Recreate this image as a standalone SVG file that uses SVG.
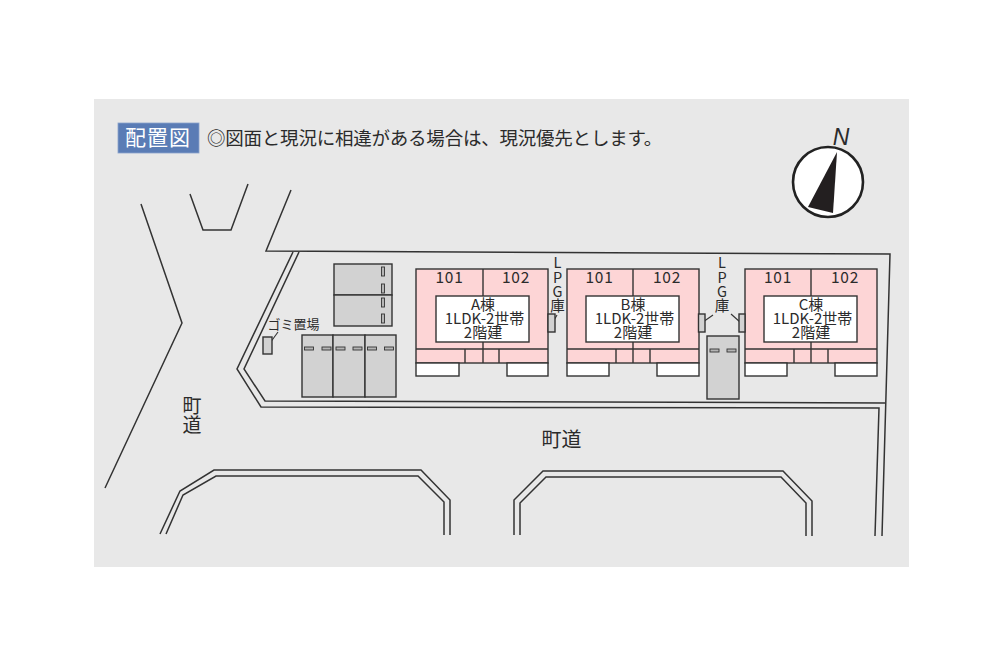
<svg xmlns="http://www.w3.org/2000/svg" width="1000" height="667" viewBox="0 0 1000 667">
<style>
text{font-family:"Noto Sans CJK JP","Noto Sans",sans-serif;fill:#2b2b2b;text-anchor:middle}
.road{fill:none;stroke:#333;stroke-width:1.5}
.b{stroke:#333;stroke-width:1.4}
.pink{fill:#fdd5d6}
.white{fill:#fff}
.gray{fill:#d2d2d2}
.slot{fill:#b5b5b5;stroke:#333;stroke-width:.9}
.lead{fill:none;stroke:#333;stroke-width:1.1}
.num{font-size:15.5px;letter-spacing:.8px}
.lbl{font-size:15px}
.lpg{font-size:14.5px}
</style>
<rect x="94" y="99" width="815" height="468" fill="#e8e8e8"/>
<g id="title">
<rect x="118" y="123" width="81" height="30" fill="#5a7cb5" stroke="#8ba3cc" stroke-width=".8"/>
<text x="158" y="145" font-size="21" style="fill:#fff" letter-spacing="1">配置図</text>
</g>
<text id="note" x="207" y="145" font-size="18.500" letter-spacing="-.22" style="text-anchor:start">◎図面と現況に相違がある場合は、現況優先とします。</text>
<g id="connectors">
<path class="road" d="M141 204L182 323L105 488"/>
<path class="road" d="M190 194L203 230H231L248 184"/>
<path class="road" d="M291 190L266 251L890 254L882 536"/>
<path class="road" d="M293 252L237 369L261 407L879 408L875 536"/>
<path class="road" d="M299 252L244 369L265 401L885 403"/>
<path class="road" d="M160 534L180 491L214 470H421L450 500V535"/>
<path class="road" d="M166 534L183 495L216 476H418L444 502V535"/>
<path class="road" d="M514 535V500L543 471H783L812 501V536"/>
<path class="road" d="M520 535V503L546 477H781L806 503V536"/>
<path class="lead" d="M278 332L270 343"/>
<path class="lead" d="M557 315L553 322"/>
<path class="lead" d="M713 315L703 322"/>
<path class="lead" d="M731 314L740 322"/>
</g>
<g id="compass">
<circle cx="828" cy="182" r="35" fill="#fff" stroke="#222" stroke-width="2.6"/>
<polygon points="837,152 808,207 833,213" fill="#231f20"/>
<text x="841" y="145" font-size="23" font-style="italic" style="font-family:'Liberation Sans',sans-serif">N</text>
</g>
<g id="parking-top">
<rect class="b gray" x="334" y="264" width="58" height="31"/>
<rect class="b gray" x="334" y="295" width="58" height="31"/>
<rect class="slot" x="381.500" y="267" width="3" height="9"/>
<rect class="slot" x="381.500" y="284" width="3" height="9"/>
<rect class="slot" x="381.500" y="298" width="3" height="9"/>
<rect class="slot" x="381.500" y="314" width="3" height="9"/>
</g>
<g id="parking-lower">
<rect class="b gray" x="302" y="335" width="31" height="62"/>
<rect class="b gray" x="333" y="335" width="32" height="62"/>
<rect class="b gray" x="365" y="335" width="31" height="62"/>
<rect class="slot" x="304.500" y="347" width="9" height="3"/>
<rect class="slot" x="322" y="347" width="9" height="3"/>
<rect class="slot" x="336" y="347" width="9" height="3"/>
<rect class="slot" x="353" y="347" width="9" height="3"/>
<rect class="slot" x="367.500" y="347" width="9" height="3"/>
<rect class="slot" x="384.500" y="347" width="9" height="3"/>
</g>
<g id="parking-right">
<rect class="b gray" x="707" y="336" width="32" height="63"/>
<rect class="slot" x="710" y="349" width="9" height="3"/>
<rect class="slot" x="727" y="349" width="9" height="3"/>
</g>
<g id="garbage">
<rect class="b gray" x="263" y="337" width="9" height="17"/>
<text x="293.500" y="329" font-size="13">ゴミ置場</text>
</g>
<g id="building-a">
<rect class="b pink" x="416" y="269" width="132" height="94"/>
<path class="b" fill="none" d="M483 269V363M416 349H548M465 349V363M499 349V363"/>
<rect class="b white" x="416" y="363" width="43" height="13"/>
<rect class="b white" x="507" y="363" width="41" height="13"/>
<rect class="b white" x="436" y="296" width="93" height="46"/>
<text class="num" x="449.500" y="283">101</text>
<text class="num" x="516" y="283">102</text>
<text class="lbl"><tspan x="483" y="310">A棟</tspan><tspan x="484.500" y="323.500">1LDK-2世帯</tspan><tspan x="483" y="338">2階建</tspan></text>
</g>
<g id="building-b">
<rect class="b pink" x="567" y="269" width="132" height="94"/>
<path class="b" fill="none" d="M633 269V363M567 349H699M616 349V363M650 349V363"/>
<rect class="b white" x="567" y="363" width="42" height="13"/>
<rect class="b white" x="657" y="363" width="42" height="13"/>
<rect class="b white" x="586" y="296" width="93" height="46"/>
<text class="num" x="599.500" y="283">101</text>
<text class="num" x="667" y="283">102</text>
<text class="lbl"><tspan x="633" y="310">B棟</tspan><tspan x="634.500" y="323.500">1LDK-2世帯</tspan><tspan x="633" y="338">2階建</tspan></text>
</g>
<g id="building-c">
<rect class="b pink" x="745" y="269" width="132" height="94"/>
<path class="b" fill="none" d="M811 269V363M745 349H877M794 349V363M828 349V363"/>
<rect class="b white" x="745" y="363" width="42" height="13"/>
<rect class="b white" x="835" y="363" width="42" height="13"/>
<rect class="b white" x="764" y="296" width="93" height="46"/>
<text class="num" x="778" y="283">101</text>
<text class="num" x="845" y="283">102</text>
<text class="lbl"><tspan x="811" y="310">C棟</tspan><tspan x="812.500" y="323.500">1LDK-2世帯</tspan><tspan x="811" y="338">2階建</tspan></text>
</g>
<g id="lpg-a">
<rect class="b gray" x="548" y="314" width="7" height="18"/>
<text class="lpg"><tspan x="557.500" y="268">L</tspan><tspan x="557.500" y="283">P</tspan><tspan x="557.500" y="297">G</tspan><tspan x="557.500" y="311">庫</tspan></text>
</g>
<g id="lpg-b">
<rect class="b gray" x="698.500" y="314" width="6.500" height="18"/>
</g>
<g id="lpg-c">
<rect class="b gray" x="739" y="314" width="6" height="18"/>
<text class="lpg"><tspan x="722" y="268">L</tspan><tspan x="722" y="283">P</tspan><tspan x="722" y="297">G</tspan><tspan x="722" y="311">庫</tspan></text>
</g>
<g id="roads-labels">
<text font-size="19"><tspan x="192" y="413">町</tspan><tspan x="192" y="432">道</tspan></text>
<text x="561.500" y="447" font-size="20">町道</text>
</g>
</svg>
